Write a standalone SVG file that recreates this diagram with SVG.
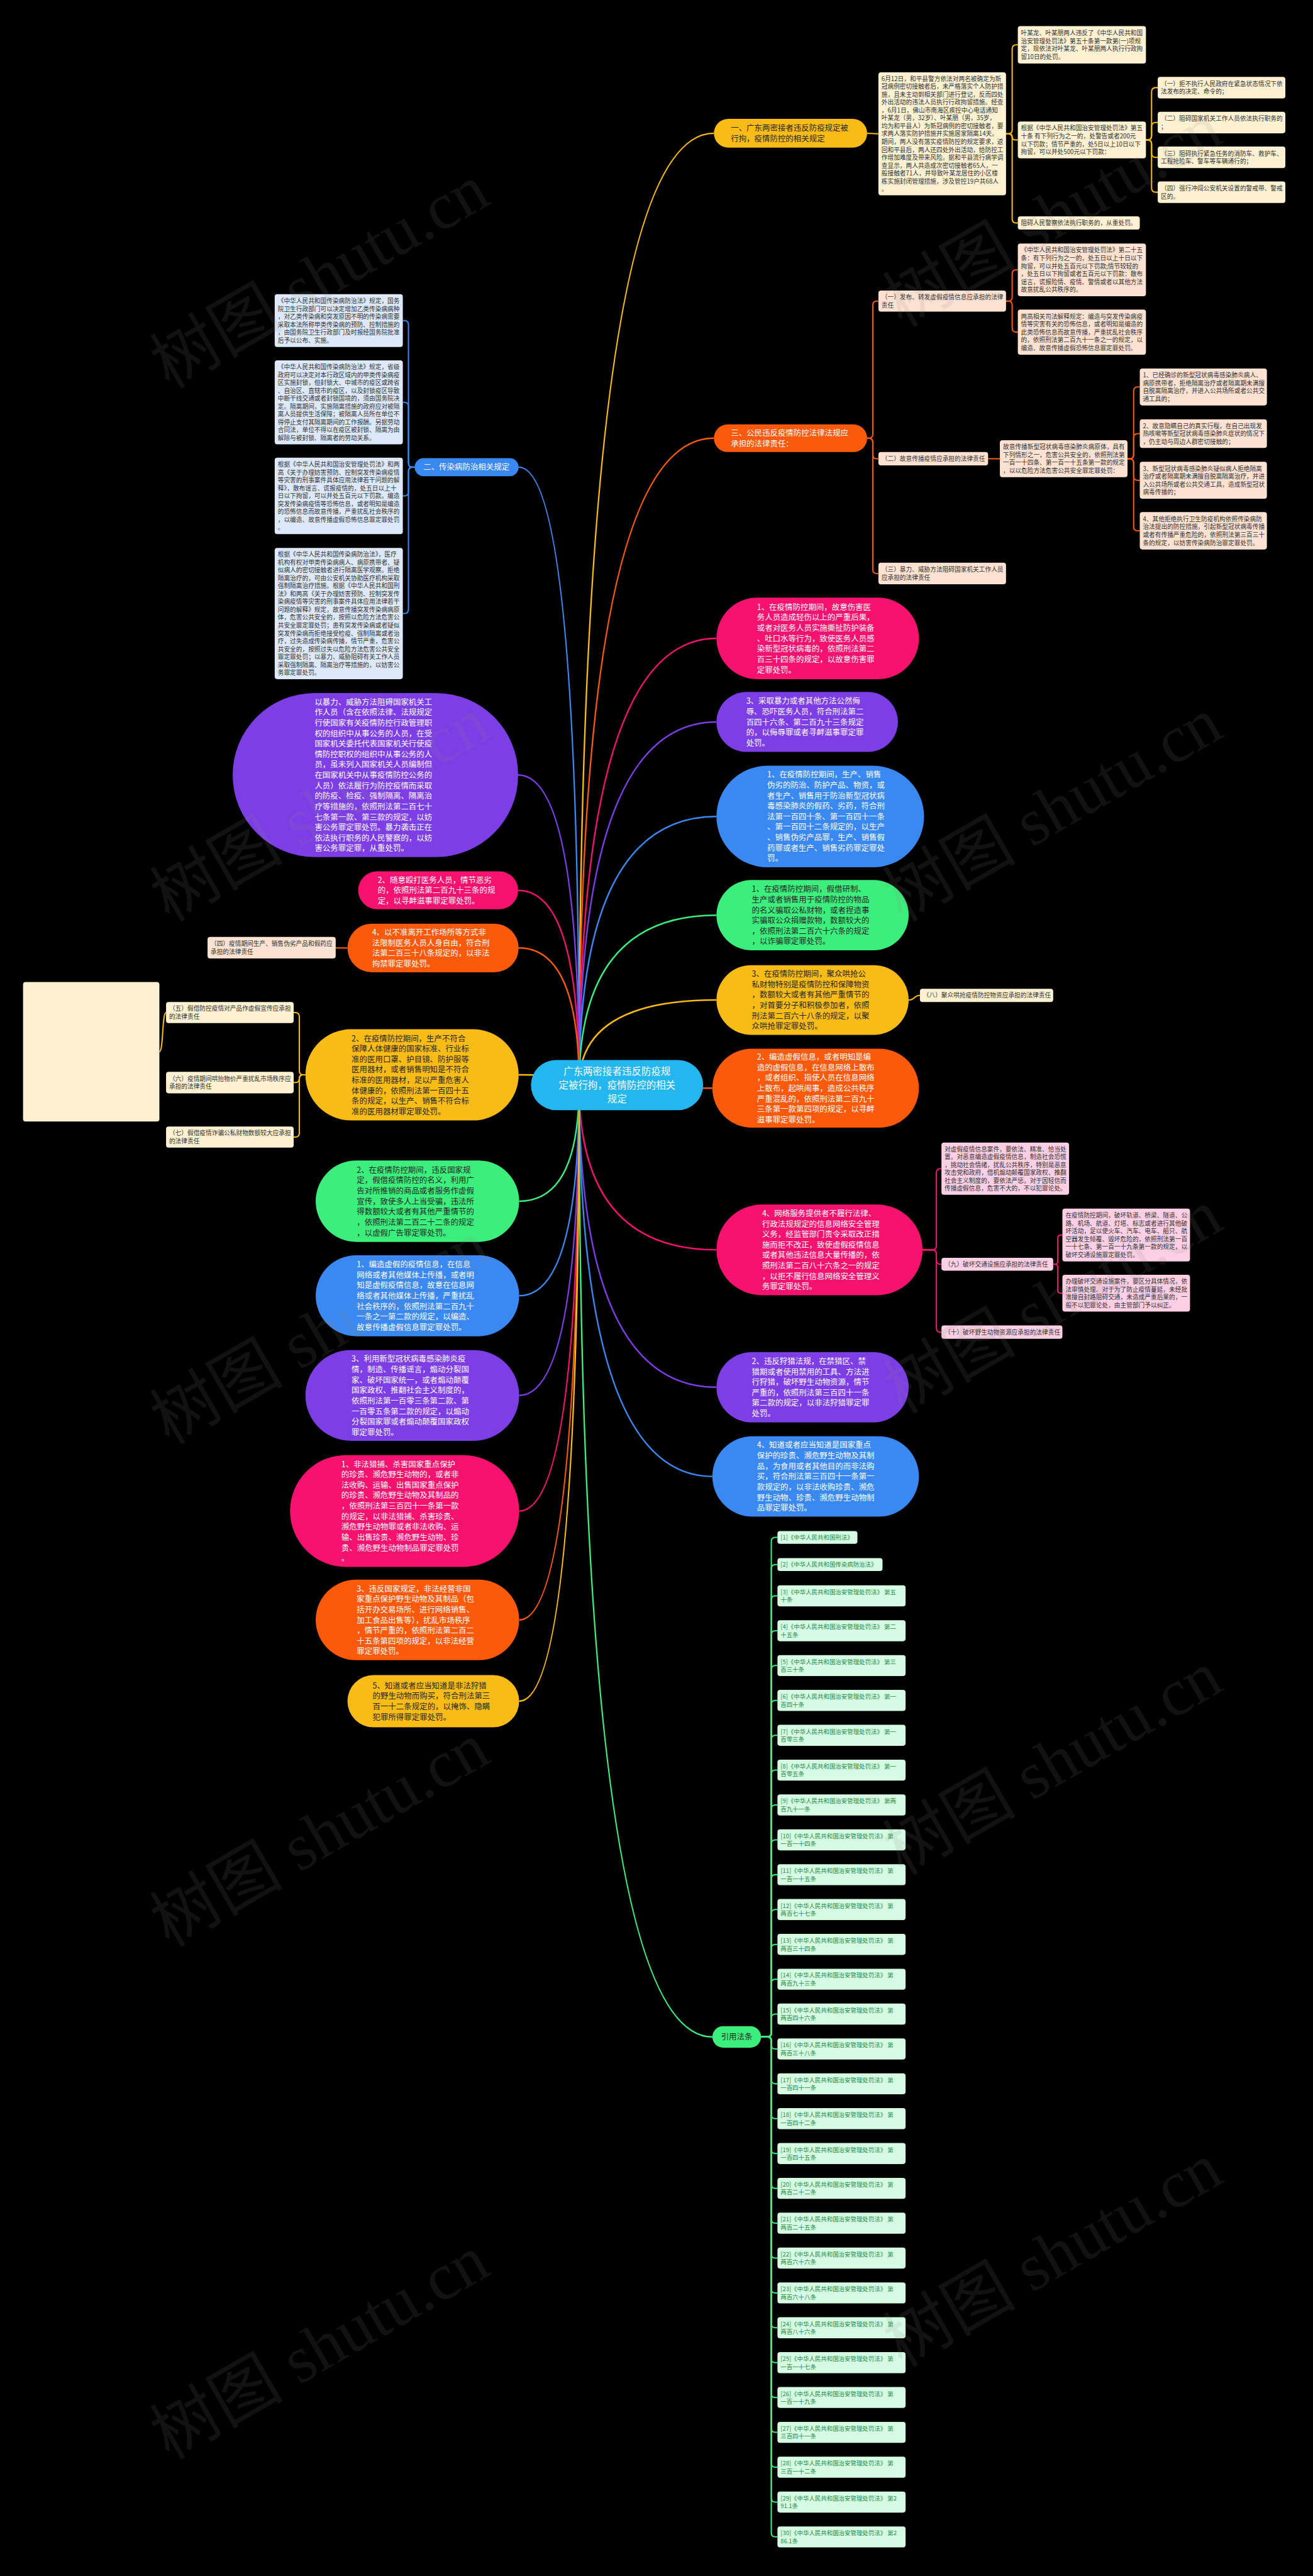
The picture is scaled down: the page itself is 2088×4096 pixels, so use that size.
<svg xmlns="http://www.w3.org/2000/svg" width="2088" height="4096" viewBox="0 0 2088 4096">
<style>
text{font-family:"Noto Sans CJK SC","Noto Sans",sans-serif}
.n{font-size:15.3px;fill:#fff}
.nd{font-size:15.3px;fill:#262626}
.lf{font-size:11.9px;fill:#333}
.ls{font-size:11.6px;fill:#1f8c49}
.rt{font-size:19px;fill:#fff;text-anchor:middle}
.wm{font-size:130px;fill:#888;opacity:0.13;font-family:"Liberation Serif","Noto Sans CJK SC",serif}
.c{fill:none;stroke-width:2.5}
.m{fill:none;stroke-width:3}
.cy{stroke:#f9bb16}.co{stroke:#fb5a0b}.cp{stroke:#f8126f}.cu{stroke:#7d3ee6}.cb{stroke:#3a89f2}.cg{stroke:#3cee7c}
.ly{fill:#fdf1d2}.lo{fill:#fde2d2}.lb{fill:#dde9fb}.lp{fill:#fccfe4}.lg{fill:#d6fbe3}
</style>
<rect width="2088" height="4096" fill="#000"/>
<g transform="scale(0.815)">
<g id="connectors">
<path class="m cy" d="M1130 2117 Q1130 260 1393 260"/>
<path class="m co" d="M1130 2117 Q1130 855 1393 855"/>
<path class="m cp" d="M1130 2117 Q1130 1245.5 1398 1245.5"/>
<path class="m cu" d="M1130 2117 Q1130 1408.5 1398 1408.5"/>
<path class="m cb" d="M1130 2117 Q1130 1593 1398 1593"/>
<path class="m cg" d="M1130 2117 Q1130 1785.5 1398 1785.5"/>
<path class="m cy" d="M1130 2117 Q1130 1951 1398 1951"/>
<path class="m co" d="M1130 2117 Q1130 2123 1390 2123"/>
<path class="m cp" d="M1130 2117 Q1130 2438.5 1398 2438.5"/>
<path class="m cu" d="M1130 2117 Q1130 2706.5 1398 2706.5"/>
<path class="m cb" d="M1130 2117 Q1130 2880.5 1390 2880.5"/>
<path class="m cg" d="M1130 2117 Q1130 3974 1390 3974"/>
<path class="m cb" d="M1130 2117 Q1130 911.5 1012 911.5"/>
<path class="m cu" d="M1130 2117 Q1130 1512 1011 1512"/>
<path class="m cp" d="M1130 2117 Q1130 1737 1011 1737"/>
<path class="m co" d="M1130 2117 Q1130 1849.5 1012 1849.5"/>
<path class="m cy" d="M1130 2117 Q1130 2097 1012 2097"/>
<path class="m cg" d="M1130 2117 Q1130 2343.5 1013 2343.5"/>
<path class="m cb" d="M1130 2117 Q1130 2528 1013 2528"/>
<path class="m cu" d="M1130 2117 Q1130 2722.5 1013 2722.5"/>
<path class="m cp" d="M1130 2117 Q1130 2948 1013 2948"/>
<path class="m co" d="M1130 2117 Q1130 3160.5 1013 3160.5"/>
<path class="m cy" d="M1130 2117 Q1130 3319 1013 3319"/>
<!-- yellow branch -->
<path class="c cy" d="M1692 260 L1714 261"/>
<path class="c cy" d="M1963 261 H1967 Q1975 261 1975 253 V95.5 Q1975 87.5 1983 87.5 H1986"/>
<path class="c cy" d="M1963 261 H1969 Q1975 261 1975 267 Q1975 273 1981 273 H1986"/>
<path class="c cy" d="M1963 261 H1967 Q1975 261 1975 269 V427 Q1975 435 1983 435 H1986"/>
<path class="c cy" d="M2236 273 H2239 Q2247 273 2247 265 V179 Q2247 171 2255 171 H2259"/>
<path class="c cy" d="M2236 273 H2239 Q2247 273 2247 265 V247 Q2247 239 2255 239 H2259"/>
<path class="c cy" d="M2236 273 H2239 Q2247 273 2247 281 V299 Q2247 307 2255 307 H2259"/>
<path class="c cy" d="M2236 273 H2239 Q2247 273 2247 281 V367 Q2247 375 2255 375 H2259"/>
<!-- orange branch -->
<path class="c co" d="M1692 855 H1695 Q1703 855 1703 847 V595.5 Q1703 587.5 1711 587.5 H1714"/>
<path class="c co" d="M1692 855 H1695 Q1703 855 1703 863 V887 Q1703 895 1711 895 H1714"/>
<path class="c co" d="M1692 855 H1695 Q1703 855 1703 863 V1111 Q1703 1119 1711 1119 H1714"/>
<path class="c co" d="M1963 587.5 H1967 Q1975 587.5 1975 579.5 V534.5 Q1975 526.5 1983 526.5 H1986"/>
<path class="c co" d="M1963 587.5 H1967 Q1975 587.5 1975 595.5 V640 Q1975 648 1983 648 H1986"/>
<path class="c co" d="M1928 895 H1951"/>
<path class="c co" d="M2200 895 H2204 Q2212 895 2212 887 V763 Q2212 755 2220 755 H2224"/>
<path class="c co" d="M2200 895 H2204 Q2212 895 2212 887 V854 Q2212 846 2220 846 H2224"/>
<path class="c co" d="M2200 895 H2204 Q2212 895 2212 903 V929 Q2212 937 2220 937 H2224"/>
<path class="c co" d="M2200 895 H2204 Q2212 895 2212 903 V1027.5 Q2212 1035.5 2220 1035.5 H2224"/>
<path class="c co" d="M678 1849.5 H655"/>
<!-- blue branch -->
<path class="c cb" d="M809 911.5 H805 Q797 911.5 797 903.5 V633.5 Q797 625.5 789 625.5 H786"/>
<path class="c cb" d="M809 911.5 H805 Q797 911.5 797 903.5 V793 Q797 785 789 785 H786"/>
<path class="c cb" d="M809 911.5 H805 Q797 911.5 797 919.5 V959.5 Q797 967.5 789 967.5 H786"/>
<path class="c cb" d="M809 911.5 H805 Q797 911.5 797 919.5 V1189 Q797 1197 789 1197 H786"/>
<!-- pink branch -->
<path class="c cp" d="M1800 2438.5 H1819 Q1827 2438.5 1827 2430.5 V2288 Q1827 2280 1835 2280 H1837"/>
<path class="c cp" d="M1800 2438.5 H1819 Q1827 2438.5 1827 2446.5 V2458.5 Q1827 2466.5 1835 2466.5 H1837"/>
<path class="c cp" d="M1800 2438.5 H1819 Q1827 2438.5 1827 2446.5 V2591 Q1827 2599 1835 2599 H1837"/>
<path class="c cp" d="M2055 2466.5 H2058 Q2064 2466.5 2064 2460.5 V2415.5 Q2064 2409.5 2070 2409.5 H2073"/>
<path class="c cp" d="M2055 2466.5 H2058 Q2064 2466.5 2064 2472.5 V2517 Q2064 2523 2070 2523 H2073"/>
<!-- yellow left -->
<path class="c cy" d="M596 2097 H592 Q584 2097 584 2089 V1983.5 Q584 1975.5 576 1975.5 H573"/>
<path class="c cy" d="M596 2097 H591 Q584 2097 584 2104 Q584 2112 577 2112 H573"/>
<path class="c cy" d="M596 2097 H592 Q584 2097 584 2105 V2210.5 Q584 2218.5 576 2218.5 H573"/>
<path class="c cy" d="M324 1975.5 C316 1975.5 319 2052 311 2052"/>
<path class="c cy" d="M1773 1951 C1785 1951 1783 1942 1795 1942"/>
<!-- list -->
<g class="c cg" stroke-width="2">
<path d="M1485 3974 H1497 Q1505 3974 1505 3966 V3007.5 Q1505 2999.5 1513 2999.5 H1517"/>
<path d="M1485 3974 H1497 Q1505 3974 1505 3966 V3060.5 Q1505 3052.5 1513 3052.5 H1517"/>
<path d="M1485 3974 H1497 Q1505 3974 1505 3966 V3121.5 Q1505 3113.5 1513 3113.5 H1517"/>
<path d="M1485 3974 H1497 Q1505 3974 1505 3966 V3189.5 Q1505 3181.5 1513 3181.5 H1517"/>
<path d="M1485 3974 H1497 Q1505 3974 1505 3966 V3257.5 Q1505 3249.5 1513 3249.5 H1517"/>
<path d="M1485 3974 H1497 Q1505 3974 1505 3966 V3325.5 Q1505 3317.5 1513 3317.5 H1517"/>
<path d="M1485 3974 H1497 Q1505 3974 1505 3966 V3393.5 Q1505 3385.5 1513 3385.5 H1517"/>
<path d="M1485 3974 H1497 Q1505 3974 1505 3966 V3461.5 Q1505 3453.5 1513 3453.5 H1517"/>
<path d="M1485 3974 H1497 Q1505 3974 1505 3966 V3529.5 Q1505 3521.5 1513 3521.5 H1517"/>
<path d="M1485 3974 H1497 Q1505 3974 1505 3966 V3597.5 Q1505 3589.5 1513 3589.5 H1517"/>
<path d="M1485 3974 H1497 Q1505 3974 1505 3966 V3665.5 Q1505 3657.5 1513 3657.5 H1517"/>
<path d="M1485 3974 H1497 Q1505 3974 1505 3966 V3733.5 Q1505 3725.5 1513 3725.5 H1517"/>
<path d="M1485 3974 H1497 Q1505 3974 1505 3966 V3801.5 Q1505 3793.5 1513 3793.5 H1517"/>
<path d="M1485 3974 H1497 Q1505 3974 1505 3966 V3869.5 Q1505 3861.5 1513 3861.5 H1517"/>
<path d="M1485 3974 H1497 Q1505 3974 1505 3966 V3937.5 Q1505 3929.5 1513 3929.5 H1517"/>
<path d="M1485 3974 H1497 Q1505 3974 1505 3982 V3989.5 Q1505 3997.5 1513 3997.5 H1517"/>
<path d="M1485 3974 H1497 Q1505 3974 1505 3982 V4057.5 Q1505 4065.5 1513 4065.5 H1517"/>
<path d="M1485 3974 H1497 Q1505 3974 1505 3982 V4125.5 Q1505 4133.5 1513 4133.5 H1517"/>
<path d="M1485 3974 H1497 Q1505 3974 1505 3982 V4193.5 Q1505 4201.5 1513 4201.5 H1517"/>
<path d="M1485 3974 H1497 Q1505 3974 1505 3982 V4261.5 Q1505 4269.5 1513 4269.5 H1517"/>
<path d="M1485 3974 H1497 Q1505 3974 1505 3982 V4329.5 Q1505 4337.5 1513 4337.5 H1517"/>
<path d="M1485 3974 H1497 Q1505 3974 1505 3982 V4397.5 Q1505 4405.5 1513 4405.5 H1517"/>
<path d="M1485 3974 H1497 Q1505 3974 1505 3982 V4465.5 Q1505 4473.5 1513 4473.5 H1517"/>
<path d="M1485 3974 H1497 Q1505 3974 1505 3982 V4533.5 Q1505 4541.5 1513 4541.5 H1517"/>
<path d="M1485 3974 H1497 Q1505 3974 1505 3982 V4601.5 Q1505 4609.5 1513 4609.5 H1517"/>
<path d="M1485 3974 H1497 Q1505 3974 1505 3982 V4669.5 Q1505 4677.5 1513 4677.5 H1517"/>
<path d="M1485 3974 H1497 Q1505 3974 1505 3982 V4737.5 Q1505 4745.5 1513 4745.5 H1517"/>
<path d="M1485 3974 H1497 Q1505 3974 1505 3982 V4805.5 Q1505 4813.5 1513 4813.5 H1517"/>
<path d="M1485 3974 H1497 Q1505 3974 1505 3982 V4873.5 Q1505 4881.5 1513 4881.5 H1517"/>
<path d="M1485 3974 H1497 Q1505 3974 1505 3982 V4941.5 Q1505 4949.5 1513 4949.5 H1517"/>
</g>
</g>

<g id="root">
<rect x="1036" y="2068" width="336" height="98" rx="49" fill="#24b6ee"/>
<text class="rt" x="1204" y="2097">广东两密接者违反防疫规<tspan x="1204" dy="27">定被行拘，疫情防控的相关</tspan><tspan x="1204" dy="27">规定</tspan></text>
</g>

<g id="n1">
<rect x="1393" y="232" width="299" height="56" rx="28" fill="#f9bb16"/>
<text class="nd" x="1426" y="255.6">一、广东两密接者违反防疫规定被<tspan x="1426" dy="20.4">行拘，疫情防控的相关规定</tspan></text>
</g>
<g id="n1-1">
<rect class="ly" x="1714" y="141" width="249" height="240" rx="5"/>
<text class="lf" x="1720" y="157.8">6月12日，和平县警方依法对两名被确定为新<tspan x="1720" dy="15.4">冠病例密切接触者后，未严格落实个人防护措</tspan><tspan x="1720" dy="15.4">施，且未主动到相关部门进行登记，反而四处</tspan><tspan x="1720" dy="15.4">外出活动的违法人员执行行政拘留措施。经查</tspan><tspan x="1720" dy="15.4">，6月1日，佛山市南海区疾控中心电话通知</tspan><tspan x="1720" dy="15.4">叶某龙（男，32岁）、叶某朋（男，35岁，</tspan><tspan x="1720" dy="15.4">均为和平县人）为新冠病例的密切接触者，要</tspan><tspan x="1720" dy="15.4">求两人落实防护措施并实施居家隔离14天。</tspan><tspan x="1720" dy="15.4">期间，两人没有落实疫情防控的规定要求，返</tspan><tspan x="1720" dy="15.4">回和平县后，两人还四处外出活动，给防控工</tspan><tspan x="1720" dy="15.4">作增加难度及带来风险。据和平县流行病学调</tspan><tspan x="1720" dy="15.4">查显示，两人共造成次密切接触者65人，一</tspan><tspan x="1720" dy="15.4">般接触者71人，并导致叶某龙居住的小区楼</tspan><tspan x="1720" dy="15.4">栋实施封闭管理措施，涉及管控19户共68人</tspan><tspan x="1720" dy="15.4">。</tspan></text>
</g>
<g id="n1-2">
<rect class="ly" x="1986" y="51" width="250" height="73" rx="5"/>
<text class="lf" x="1992" y="69">叶某龙、叶某朋两人违反了《中华人民共和国<tspan x="1992" dy="15.4">治安管理处罚法》第五十条第一款第(一)项规</tspan><tspan x="1992" dy="15.4">定，现依法对叶某龙、叶某朋两人执行行政拘</tspan><tspan x="1992" dy="15.4">留10日的处罚。</tspan></text>
</g>
<g id="n1-3">
<rect class="ly" x="1986" y="237" width="250" height="72" rx="5"/>
<text class="lf" x="1992" y="254.5">根据《中华人民共和国治安管理处罚法》第五<tspan x="1992" dy="15.4">十条 有下列行为之一的，处警告或者200元</tspan><tspan x="1992" dy="15.4">以下罚款；情节严重的，处5日以上10日以下</tspan><tspan x="1992" dy="15.4">拘留，可以并处500元以下罚款：</tspan></text>
</g>
<g id="n1-3-1"><rect class="ly" x="2259" y="150" width="249" height="42" rx="5"/><text class="lf" x="2265" y="167.9">（一）拒不执行人民政府在紧急状态情况下依<tspan x="2265" dy="15.4">法发布的决定、命令的；</tspan></text></g>
<g id="n1-3-2"><rect class="ly" x="2259" y="218" width="249" height="42" rx="5"/><text class="lf" x="2265" y="235.9">（二）阻碍国家机关工作人员依法执行职务的<tspan x="2265" dy="15.4">；</tspan></text></g>
<g id="n1-3-3"><rect class="ly" x="2259" y="286" width="249" height="42" rx="5"/><text class="lf" x="2265" y="303.9">（三）阻碍执行紧急任务的消防车、救护车、<tspan x="2265" dy="15.4">工程抢险车、警车等车辆通行的；</tspan></text></g>
<g id="n1-3-4"><rect class="ly" x="2259" y="354" width="249" height="42" rx="5"/><text class="lf" x="2265" y="371.9">（四）强行冲闯公安机关设置的警戒带、警戒<tspan x="2265" dy="15.4">区的。</tspan></text></g>
<g id="n1-4"><rect class="ly" x="1986" y="422" width="238" height="26" rx="5"/><text class="lf" x="1992" y="439.6">阻碍人民警察依法执行职务的，从重处罚。</text></g>

<g id="n3">
<rect x="1393" y="828" width="299" height="54" rx="27" fill="#fb5a0b"/>
<text class="n" x="1426" y="850.6">三、公民违反疫情防控法律法规应<tspan x="1426" dy="20.4">承担的法律责任：</tspan></text>
</g>
<g id="n3-1"><rect class="lo" x="1714" y="567" width="249" height="41" rx="5"/><text class="lf" x="1720" y="584.4">（一）发布、转发虚假疫情信息应承担的法律<tspan x="1720" dy="15.4">责任</tspan></text></g>
<g id="n3-1-1"><rect class="lo" x="1986" y="475" width="250" height="103" rx="5"/><text class="lf" x="1992" y="492.6">《中华人民共和国治安管理处罚法》第二十五<tspan x="1992" dy="15.4">条：有下列行为之一的，处五日以上十日以下</tspan><tspan x="1992" dy="15.4">拘留，可以并处五百元以下罚款;情节较轻的</tspan><tspan x="1992" dy="15.4">，处五日以下拘留或者五百元以下罚款：散布</tspan><tspan x="1992" dy="15.4">谣言，谎报险情、疫情、警情或者以其他方法</tspan><tspan x="1992" dy="15.4">故意扰乱公共秩序的。</tspan></text></g>
<g id="n3-1-2"><rect class="lo" x="1986" y="604" width="250" height="88" rx="5"/><text class="lf" x="1992" y="621.8">两高相关司法解释规定：编造与突发传染病疫<tspan x="1992" dy="15.4">情等灾害有关的恐怖信息，或者明知是编造的</tspan><tspan x="1992" dy="15.4">此类恐怖信息而故意传播，严重扰乱社会秩序</tspan><tspan x="1992" dy="15.4">的，依照刑法第二百九十一条之一的规定，以</tspan><tspan x="1992" dy="15.4">编造、故意传播虚假恐怖信息罪定罪处罚。</tspan></text></g>
<g id="n3-2"><rect class="lo" x="1714" y="882" width="214" height="26" rx="5"/><text class="lf" x="1720" y="899.6">（二）故意传播疫情应承担的法律责任</text></g>
<g id="n3-2-1"><rect class="lo" x="1951" y="859" width="249" height="72" rx="5"/><text class="lf" x="1957" y="876.5">故意传播新型冠状病毒感染肺炎病原体，具有<tspan x="1957" dy="15.4">下列情形之一，危害公共安全的，依照刑法第</tspan><tspan x="1957" dy="15.4">一百一十四条、第一百一十五条第一款的规定</tspan><tspan x="1957" dy="15.4">，以以危险方法危害公共安全罪定罪处罚：</tspan></text></g>
<g id="n3-2-1-1"><rect class="lo" x="2224" y="719" width="248" height="72" rx="5"/><text class="lf" x="2230" y="736.5">1、已经确诊的新型冠状病毒感染肺炎病人、<tspan x="2230" dy="15.4">病原携带者，拒绝隔离治疗或者隔离期未满擅</tspan><tspan x="2230" dy="15.4">自脱离隔离治疗，并进入公共场所或者公共交</tspan><tspan x="2230" dy="15.4">通工具的；</tspan></text></g>
<g id="n3-2-1-2"><rect class="lo" x="2224" y="818" width="248" height="56" rx="5"/><text class="lf" x="2230" y="835.2">2、故意隐瞒自己的真实行程，在自己出现发<tspan x="2230" dy="15.4">热咳嗽等新型冠状病毒感染肺炎症状的情况下</tspan><tspan x="2230" dy="15.4">，仍主动与周边人群密切接触的；</tspan></text></g>
<g id="n3-2-1-3"><rect class="lo" x="2224" y="901" width="248" height="72" rx="5"/><text class="lf" x="2230" y="918.5">3、新型冠状病毒感染肺炎疑似病人拒绝隔离<tspan x="2230" dy="15.4">治疗或者隔离期未满擅自脱离隔离治疗，并进</tspan><tspan x="2230" dy="15.4">入公共场所或者公共交通工具，造成新型冠状</tspan><tspan x="2230" dy="15.4">病毒传播的；</tspan></text></g>
<g id="n3-2-1-4"><rect class="lo" x="2224" y="999" width="248" height="73" rx="5"/><text class="lf" x="2230" y="1017">4、其他拒绝执行卫生防疫机构依照传染病防<tspan x="2230" dy="15.4">治法提出的防控措施，引起新型冠状病毒传播</tspan><tspan x="2230" dy="15.4">或者有传播严重危险的，依照刑法第三百三十</tspan><tspan x="2230" dy="15.4">条的规定，以妨害传染病防治罪定罪处罚。</tspan></text></g>
<g id="n3-3"><rect class="lo" x="1714" y="1098" width="249" height="42" rx="5"/><text class="lf" x="1720" y="1115.9">（三）暴力、威胁方法阻碍国家机关工作人员<tspan x="1720" dy="15.4">应承担的法律责任</tspan></text></g>

<g id="n2">
<rect x="809" y="894" width="203" height="35" rx="17.5" fill="#3a89f2"/>
<text class="n" x="826" y="917">二、传染病防治相关规定</text>
</g>
<g id="n2-1"><rect class="lb" x="536" y="574" width="250" height="103" rx="5"/><text class="lf" x="542" y="591.5">《中华人民共和国传染病防治法》规定，国务<tspan x="542" dy="15.4">院卫生行政部门可以决定增加乙类传染病病种</tspan><tspan x="542" dy="15.4">，对乙类传染病和突发原因不明的传染病需要</tspan><tspan x="542" dy="15.4">采取本法所称甲类传染病的预防、控制措施的</tspan><tspan x="542" dy="15.4">，由国务院卫生行政部门及时报经国务院批准</tspan><tspan x="542" dy="15.4">后予以公布、实施。</tspan></text></g>
<g id="n2-2"><rect class="lb" x="536" y="703" width="250" height="164" rx="5"/><text class="lf" x="542" y="720.2">《中华人民共和国传染病防治法》规定，省级<tspan x="542" dy="15.4">政府可以决定对本行政区域内的甲类传染病疫</tspan><tspan x="542" dy="15.4">区实施封锁，但封锁大、中城市的疫区或跨省</tspan><tspan x="542" dy="15.4">、自治区、直辖市的疫区，以及封锁疫区导致</tspan><tspan x="542" dy="15.4">中断干线交通或者封锁国境的，须由国务院决</tspan><tspan x="542" dy="15.4">定。隔离期间，实施隔离措施的政府应对被隔</tspan><tspan x="542" dy="15.4">离人员提供生活保障；被隔离人员所在单位不</tspan><tspan x="542" dy="15.4">得停止支付其隔离期间的工作报酬。另据劳动</tspan><tspan x="542" dy="15.4">合同法，单位不得以在疫区被封锁、隔离为由</tspan><tspan x="542" dy="15.4">解除与被封锁、隔离者的劳动关系。</tspan></text></g>
<g id="n2-3"><rect class="lb" x="536" y="893" width="250" height="149" rx="5"/><text class="lf" x="542" y="910.4">根据《中华人民共和国治安管理处罚法》和两<tspan x="542" dy="15.4">高《关于办理妨害预防、控制突发传染病疫情</tspan><tspan x="542" dy="15.4">等灾害的刑事案件具体应用法律若干问题的解</tspan><tspan x="542" dy="15.4">释》，散布谣言、谎报疫情的，处五日以上十</tspan><tspan x="542" dy="15.4">日以下拘留，可以并处五百元以下罚款。编造</tspan><tspan x="542" dy="15.4">突发传染病疫情等恐怖信息，或者明知是编造</tspan><tspan x="542" dy="15.4">的恐怖信息而故意传播，严重扰乱社会秩序的</tspan><tspan x="542" dy="15.4">，以编造、故意传播虚假恐怖信息罪定罪处罚</tspan><tspan x="542" dy="15.4">。</tspan></text></g>
<g id="n2-4"><rect class="lb" x="536" y="1069" width="250" height="256" rx="5"/><text class="lf" x="542" y="1086">根据《中华人民共和国传染病防治法》，医疗<tspan x="542" dy="15.4">机构有权对甲类传染病病人、病原携带者、疑</tspan><tspan x="542" dy="15.4">似病人的密切接触者进行隔离医学观察。拒绝</tspan><tspan x="542" dy="15.4">隔离治疗的，可由公安机关协助医疗机构采取</tspan><tspan x="542" dy="15.4">强制隔离治疗措施。根据《中华人民共和国刑</tspan><tspan x="542" dy="15.4">法》和两高《关于办理妨害预防、控制突发传</tspan><tspan x="542" dy="15.4">染病疫情等灾害的刑事案件具体应用法律若干</tspan><tspan x="542" dy="15.4">问题的解释》规定，故意传播突发传染病病原</tspan><tspan x="542" dy="15.4">体，危害公共安全的，按照以危险方法危害公</tspan><tspan x="542" dy="15.4">共安全罪定罪处罚；患有突发传染病或者疑似</tspan><tspan x="542" dy="15.4">突发传染病而拒绝接受检疫、强制隔离或者治</tspan><tspan x="542" dy="15.4">疗，过失造成传染病传播，情节严重，危害公</tspan><tspan x="542" dy="15.4">共安全的，按照过失以危险方法危害公共安全</tspan><tspan x="542" dy="15.4">罪定罪处罚；以暴力、威胁阻碍有关工作人员</tspan><tspan x="542" dy="15.4">采取强制隔离、隔离治疗等措施的，以妨害公</tspan><tspan x="542" dy="15.4">务罪定罪处罚。</tspan></text></g>

<g id="r2"><rect x="1398" y="1166" width="395" height="159" rx="79.5" fill="#f8126f"/><text class="n" x="1477" y="1190">1、在疫情防控期间，故意伤害医<tspan x="1477" dy="20.4">务人员造成轻伤以上的严重后果，</tspan><tspan x="1477" dy="20.4">或者对医务人员实施撕扯防护装备</tspan><tspan x="1477" dy="20.4">、吐口水等行为，致使医务人员感</tspan><tspan x="1477" dy="20.4">染新型冠状病毒的，依照刑法第二</tspan><tspan x="1477" dy="20.4">百三十四条的规定，以故意伤害罪</tspan><tspan x="1477" dy="20.4">定罪处罚。</tspan></text></g>
<g id="r3"><rect x="1398" y="1350" width="354" height="117" rx="58.5" fill="#7d3ee6"/><text class="n" x="1456" y="1373.5">3、采取暴力或者其他方法公然侮<tspan x="1456" dy="20.4">辱、恐吓医务人员，符合刑法第二</tspan><tspan x="1456" dy="20.4">百四十六条、第二百九十三条规定</tspan><tspan x="1456" dy="20.4">的，以侮辱罪或者寻衅滋事罪定罪</tspan><tspan x="1456" dy="20.4">处罚。</tspan></text></g>
<g id="r4"><rect x="1398" y="1494" width="405" height="198" rx="99" fill="#3a89f2"/><text class="n" x="1497" y="1517">1、在疫情防控期间，生产、销售<tspan x="1497" dy="20.4">伪劣的防治、防护产品、物资，或</tspan><tspan x="1497" dy="20.4">者生产、销售用于防治新型冠状病</tspan><tspan x="1497" dy="20.4">毒感染肺炎的假药、劣药，符合刑</tspan><tspan x="1497" dy="20.4">法第一百四十条、第一百四十一条</tspan><tspan x="1497" dy="20.4">、第一百四十二条规定的，以生产</tspan><tspan x="1497" dy="20.4">、销售伪劣产品罪，生产、销售假</tspan><tspan x="1497" dy="20.4">药罪或者生产、销售劣药罪定罪处</tspan><tspan x="1497" dy="20.4">罚。</tspan></text></g>
<g id="r5"><rect x="1398" y="1717" width="375" height="137" rx="68.5" fill="#3cee7c"/><text class="nd" x="1467" y="1740.3">1、在疫情防控期间，假借研制、<tspan x="1467" dy="20.4">生产或者销售用于疫情防控的物品</tspan><tspan x="1467" dy="20.4">的名义骗取公私财物，或者捏造事</tspan><tspan x="1467" dy="20.4">实骗取公众捐赠款物，数额较大的</tspan><tspan x="1467" dy="20.4">，依照刑法第二百六十六条的规定</tspan><tspan x="1467" dy="20.4">，以诈骗罪定罪处罚。</tspan></text></g>
<g id="r6"><rect x="1398" y="1883" width="375" height="136" rx="68" fill="#f9bb16"/><text class="nd" x="1467" y="1905.8">3、在疫情防控期间，聚众哄抢公<tspan x="1467" dy="20.4">私财物特别是疫情防控和保障物资</tspan><tspan x="1467" dy="20.4">，数额较大或者有其他严重情节的</tspan><tspan x="1467" dy="20.4">，对首要分子和积极参加者，依照</tspan><tspan x="1467" dy="20.4">刑法第二百六十八条的规定，以聚</tspan><tspan x="1467" dy="20.4">众哄抢罪定罪处罚。</tspan></text></g>
<g id="r6-1"><rect class="ly" x="1795" y="1929" width="260" height="26" rx="5"/><text class="lf" x="1801" y="1946.5">（八）聚众哄抢疫情防控物资应承担的法律责任</text></g>
<g id="r7"><rect x="1390" y="2046" width="403" height="154" rx="77" fill="#fb5a0b"/><text class="n" x="1477" y="2067.6">2、编造虚假信息，或者明知是编<tspan x="1477" dy="20.4">造的虚假信息，在信息网络上散布</tspan><tspan x="1477" dy="20.4">，或者组织、指使人员在信息网络</tspan><tspan x="1477" dy="20.4">上散布，起哄闹事，造成公共秩序</tspan><tspan x="1477" dy="20.4">严重混乱的，依照刑法第二百九十</tspan><tspan x="1477" dy="20.4">三条第一款第四项的规定，以寻衅</tspan><tspan x="1477" dy="20.4">滋事罪定罪处罚。</tspan></text></g>
<g id="r8"><rect x="1398" y="2350" width="402" height="177" rx="88.5" fill="#f8126f"/><text class="n" x="1487" y="2372.9">4、网络服务提供者不履行法律、<tspan x="1487" dy="20.4">行政法规规定的信息网络安全管理</tspan><tspan x="1487" dy="20.4">义务，经监管部门责令采取改正措</tspan><tspan x="1487" dy="20.4">施而拒不改正，致使虚假疫情信息</tspan><tspan x="1487" dy="20.4">或者其他违法信息大量传播的，依</tspan><tspan x="1487" dy="20.4">照刑法第二百八十六条之一的规定</tspan><tspan x="1487" dy="20.4">，以拒不履行信息网络安全管理义</tspan><tspan x="1487" dy="20.4">务罪定罪处罚。</tspan></text></g>
<g id="r8-1"><rect class="lp" x="1837" y="2229" width="249" height="102" rx="5"/><text class="lf" x="1843" y="2246.1">对虚假疫情信息案件，要依法、精准、恰当处<tspan x="1843" dy="15.4">置。对恶意编造虚假疫情信息，制造社会恐慌</tspan><tspan x="1843" dy="15.4">，挑动社会情绪，扰乱公共秩序，特别是恶意</tspan><tspan x="1843" dy="15.4">攻击党和政府，借机煽动颠覆国家政权、推翻</tspan><tspan x="1843" dy="15.4">社会主义制度的，要依法严惩。对于因轻信而</tspan><tspan x="1843" dy="15.4">传播虚假信息，危害不大的，不以犯罪论处。</tspan></text></g>
<g id="r8-2"><rect class="lp" x="1837" y="2454" width="218" height="25" rx="5"/><text class="lf" x="1843" y="2471">（九）破坏交通设施应承担的法律责任</text></g>
<g id="r8-2-1"><rect class="lp" x="2073" y="2358" width="249" height="103" rx="5"/><text class="lf" x="2079" y="2375.6">在疫情防控期间，破坏轨道、桥梁、隧道、公<tspan x="2079" dy="15.4">路、机场、航道、灯塔、标志或者进行其他破</tspan><tspan x="2079" dy="15.4">坏活动，足以使火车、汽车、电车、船只、航</tspan><tspan x="2079" dy="15.4">空器发生倾覆、毁坏危险的，依照刑法第一百</tspan><tspan x="2079" dy="15.4">一十七条、第一百一十九条第一款的规定，以</tspan><tspan x="2079" dy="15.4">破坏交通设施罪定罪处罚。</tspan></text></g>
<g id="r8-2-2"><rect class="lp" x="2073" y="2487" width="249" height="72" rx="5"/><text class="lf" x="2079" y="2504.5">办理破坏交通设施案件，要区分具体情况，依<tspan x="2079" dy="15.4">法审慎处理。对于为了防止疫情蔓延，未经批</tspan><tspan x="2079" dy="15.4">准擅自封路阻碍交通，未造成严重后果的，一</tspan><tspan x="2079" dy="15.4">般不以犯罪论处，由主管部门予以纠正。</tspan></text></g>
<g id="r8-3"><rect class="lp" x="1837" y="2586" width="236" height="26" rx="5"/><text class="lf" x="1843" y="2603.5">（十）破坏野生动物资源应承担的法律责任</text></g>
<g id="r9"><rect x="1398" y="2638" width="375" height="137" rx="68.5" fill="#7d3ee6"/><text class="n" x="1467" y="2661.3">2、违反狩猎法规，在禁猎区、禁<tspan x="1467" dy="20.4">猎期或者使用禁用的工具、方法进</tspan><tspan x="1467" dy="20.4">行狩猎，破坏野生动物资源，情节</tspan><tspan x="1467" dy="20.4">严重的，依照刑法第三百四十一条</tspan><tspan x="1467" dy="20.4">第二款的规定，以非法狩猎罪定罪</tspan><tspan x="1467" dy="20.4">处罚。</tspan></text></g>
<g id="r10"><rect x="1390" y="2802" width="403" height="157" rx="78.5" fill="#3a89f2"/><text class="n" x="1477" y="2825.1">4、知道或者应当知道是国家重点<tspan x="1477" dy="20.4">保护的珍贵、濒危野生动物及其制</tspan><tspan x="1477" dy="20.4">品，为食用或者其他目的而非法购</tspan><tspan x="1477" dy="20.4">买，符合刑法第三百四十一条第一</tspan><tspan x="1477" dy="20.4">款规定的，以非法收购珍贵、濒危</tspan><tspan x="1477" dy="20.4">野生动物、珍贵、濒危野生动物制</tspan><tspan x="1477" dy="20.4">品罪定罪处罚。</tspan></text></g>

<g id="l1"><rect x="454" y="1352" width="557" height="320" rx="160" fill="#7d3ee6"/><text class="n" x="614" y="1375">以暴力、威胁方法阻碍国家机关工<tspan x="614" dy="20.4">作人员（含在依照法律、法规规定</tspan><tspan x="614" dy="20.4">行使国家有关疫情防控行政管理职</tspan><tspan x="614" dy="20.4">权的组织中从事公务的人员，在受</tspan><tspan x="614" dy="20.4">国家机关委托代表国家机关行使疫</tspan><tspan x="614" dy="20.4">情防控职权的组织中从事公务的人</tspan><tspan x="614" dy="20.4">员，虽未列入国家机关人员编制但</tspan><tspan x="614" dy="20.4">在国家机关中从事疫情防控公务的</tspan><tspan x="614" dy="20.4">人员）依法履行为防控疫情而采取</tspan><tspan x="614" dy="20.4">的防疫、检疫、强制隔离、隔离治</tspan><tspan x="614" dy="20.4">疗等措施的，依照刑法第二百七十</tspan><tspan x="614" dy="20.4">七条第一款、第三款的规定，以妨</tspan><tspan x="614" dy="20.4">害公务罪定罪处罚。暴力袭击正在</tspan><tspan x="614" dy="20.4">依法执行职务的人民警察的，以妨</tspan><tspan x="614" dy="20.4">害公务罪定罪，从重处罚。</tspan></text></g>
<g id="l2"><rect x="699" y="1700" width="312" height="74" rx="37" fill="#f8126f"/><text class="n" x="737" y="1722.4">2、随意殴打医务人员，情节恶劣<tspan x="737" dy="20.4">的，依照刑法第二百九十三条的规</tspan><tspan x="737" dy="20.4">定，以寻衅滋事罪定罪处罚。</tspan></text></g>
<g id="l3"><rect x="678" y="1802" width="334" height="95" rx="47.5" fill="#fb5a0b"/><text class="n" x="726" y="1824.7">4、以不准离开工作场所等方式非<tspan x="726" dy="20.4">法限制医务人员人身自由，符合刑</tspan><tspan x="726" dy="20.4">法第二百三十八条规定的，以非法</tspan><tspan x="726" dy="20.4">拘禁罪定罪处罚。</tspan></text></g>
<g id="l3-1"><rect class="lo" x="405" y="1828" width="250" height="42" rx="5"/><text class="lf" x="411" y="1845.9">（四）疫情期间生产、销售伪劣产品和假药应<tspan x="411" dy="15.4">承担的法律责任</tspan></text></g>
<g id="l4"><rect x="596" y="2008" width="416" height="178" rx="89" fill="#f9bb16"/><text class="nd" x="686" y="2031.4">2、在疫情防控期间，生产不符合<tspan x="686" dy="20.4">保障人体健康的国家标准、行业标</tspan><tspan x="686" dy="20.4">准的医用口罩、护目镜、防护服等</tspan><tspan x="686" dy="20.4">医用器材，或者销售明知是不符合</tspan><tspan x="686" dy="20.4">标准的医用器材，足以严重危害人</tspan><tspan x="686" dy="20.4">体健康的，依照刑法第一百四十五</tspan><tspan x="686" dy="20.4">条的规定，以生产、销售不符合标</tspan><tspan x="686" dy="20.4">准的医用器材罪定罪处罚。</tspan></text></g>
<g id="l4-1"><rect class="ly" x="324" y="1955" width="249" height="41" rx="5"/><text class="lf" x="330" y="1972.3">（五）假借防控疫情对产品作虚假宣传应承担<tspan x="330" dy="15.4">的法律责任</tspan></text></g>
<g id="l4-2"><rect class="ly" x="324" y="2091" width="249" height="42" rx="5"/><text class="lf" x="330" y="2108.8">（六）疫情期间哄抬物价严重扰乱市场秩序应<tspan x="330" dy="15.4">承担的法律责任</tspan></text></g>
<g id="l4-3"><rect class="ly" x="324" y="2198" width="249" height="41" rx="5"/><text class="lf" x="330" y="2215.3">（七）假借疫情诈骗公私财物数额较大应承担<tspan x="330" dy="15.4">的法律责任</tspan></text></g>
<g id="l4-note"><rect class="ly" x="45" y="1916" width="266" height="272" rx="5"/></g>
<g id="l5"><rect x="616" y="2264" width="397" height="159" rx="79.5" fill="#3cee7c"/><text class="nd" x="696" y="2288.1">2、在疫情防控期间，违反国家规<tspan x="696" dy="20.4">定，假借疫情防控的名义，利用广</tspan><tspan x="696" dy="20.4">告对所推销的商品或者服务作虚假</tspan><tspan x="696" dy="20.4">宣传，致使多人上当受骗，违法所</tspan><tspan x="696" dy="20.4">得数额较大或者有其他严重情节的</tspan><tspan x="696" dy="20.4">，依照刑法第二百二十二条的规定</tspan><tspan x="696" dy="20.4">，以虚假广告罪定罪处罚。</tspan></text></g>
<g id="l6"><rect x="616" y="2449" width="397" height="158" rx="79" fill="#3a89f2"/><text class="n" x="696" y="2472.6">1、编造虚假的疫情信息，在信息<tspan x="696" dy="20.4">网络或者其他媒体上传播，或者明</tspan><tspan x="696" dy="20.4">知是虚假疫情信息，故意在信息网</tspan><tspan x="696" dy="20.4">络或者其他媒体上传播，严重扰乱</tspan><tspan x="696" dy="20.4">社会秩序的，依照刑法第二百九十</tspan><tspan x="696" dy="20.4">一条之一第二款的规定，以编造、</tspan><tspan x="696" dy="20.4">故意传播虚假信息罪定罪处罚。</tspan></text></g>
<g id="l7"><rect x="596" y="2634" width="417" height="177" rx="88.5" fill="#7d3ee6"/><text class="n" x="686" y="2656.9">3、利用新型冠状病毒感染肺炎疫<tspan x="686" dy="20.4">情，制造、传播谣言，煽动分裂国</tspan><tspan x="686" dy="20.4">家、破坏国家统一，或者煽动颠覆</tspan><tspan x="686" dy="20.4">国家政权、推翻社会主义制度的，</tspan><tspan x="686" dy="20.4">依照刑法第一百零三条第二款、第</tspan><tspan x="686" dy="20.4">一百零五条第二款的规定，以煽动</tspan><tspan x="686" dy="20.4">分裂国家罪或者煽动颠覆国家政权</tspan><tspan x="686" dy="20.4">罪定罪处罚。</tspan></text></g>
<g id="l8"><rect x="566" y="2839" width="447" height="218" rx="109" fill="#f8126f"/><text class="n" x="666" y="2862">1、非法猎捕、杀害国家重点保护<tspan x="666" dy="20.4">的珍贵、濒危野生动物的，或者非</tspan><tspan x="666" dy="20.4">法收购、运输、出售国家重点保护</tspan><tspan x="666" dy="20.4">的珍贵、濒危野生动物及其制品的</tspan><tspan x="666" dy="20.4">，依照刑法第三百四十一条第一款</tspan><tspan x="666" dy="20.4">的规定，以非法猎捕、杀害珍贵、</tspan><tspan x="666" dy="20.4">濒危野生动物罪或者非法收购、运</tspan><tspan x="666" dy="20.4">输、出售珍贵、濒危野生动物、珍</tspan><tspan x="666" dy="20.4">贵、濒危野生动物制品罪定罪处罚</tspan><tspan x="666" dy="20.4">。</tspan></text></g>
<g id="l9"><rect x="616" y="3082" width="397" height="157" rx="78.5" fill="#fb5a0b"/><text class="n" x="696" y="3105.1">3、违反国家规定，非法经营非国<tspan x="696" dy="20.4">家重点保护野生动物及其制品（包</tspan><tspan x="696" dy="20.4">括开办交易场所、进行网络销售、</tspan><tspan x="696" dy="20.4">加工食品出售等），扰乱市场秩序</tspan><tspan x="696" dy="20.4">，情节严重的，依照刑法第二百二</tspan><tspan x="696" dy="20.4">十五条第四项的规定，以非法经营</tspan><tspan x="696" dy="20.4">罪定罪处罚。</tspan></text></g>
<g id="l10"><rect x="678" y="3268" width="335" height="102" rx="51" fill="#f9bb16"/><text class="nd" x="727" y="3294.2">5、知道或者应当知道是非法狩猎<tspan x="727" dy="20.4">的野生动物而购买，符合刑法第三</tspan><tspan x="727" dy="20.4">百一十二条规定的，以掩饰、隐瞒</tspan><tspan x="727" dy="20.4">犯罪所得罪定罪处罚。</tspan></text></g>

<g id="n4"><rect x="1390" y="3953" width="95" height="42" rx="21" fill="#3cee7c"/><text class="nd" x="1437.5" y="3979.5" text-anchor="middle">引用法条</text></g>
<g id="refs">
<rect class="lg" x="1517" y="2987" width="156" height="25" rx="5"/><text class="ls" x="1523" y="3003.6">[1]《中华人民共和国刑法》</text>
<rect class="lg" x="1517" y="3040" width="205" height="25" rx="5"/><text class="ls" x="1523" y="3056.6">[2]《中华人民共和国传染病防治法》</text>
<rect class="lg" x="1517" y="3093" width="250" height="41" rx="5"/><text class="ls" x="1523" y="3110.25">[3]《中华人民共和国治安管理处罚法》 第五<tspan x="1523" dy="15.3">十条</tspan></text>
<rect class="lg" x="1517" y="3161" width="250" height="41" rx="5"/><text class="ls" x="1523" y="3178.25">[4]《中华人民共和国治安管理处罚法》 第二<tspan x="1523" dy="15.3">十五条</tspan></text>
<rect class="lg" x="1517" y="3229" width="250" height="41" rx="5"/><text class="ls" x="1523" y="3246.25">[5]《中华人民共和国治安管理处罚法》 第三<tspan x="1523" dy="15.3">百三十条</tspan></text>
<rect class="lg" x="1517" y="3297" width="250" height="41" rx="5"/><text class="ls" x="1523" y="3314.25">[6]《中华人民共和国治安管理处罚法》 第一<tspan x="1523" dy="15.3">百四十条</tspan></text>
<rect class="lg" x="1517" y="3365" width="250" height="41" rx="5"/><text class="ls" x="1523" y="3382.25">[7]《中华人民共和国治安管理处罚法》 第一<tspan x="1523" dy="15.3">百零三条</tspan></text>
<rect class="lg" x="1517" y="3433" width="250" height="41" rx="5"/><text class="ls" x="1523" y="3450.25">[8]《中华人民共和国治安管理处罚法》 第一<tspan x="1523" dy="15.3">百零五条</tspan></text>
<rect class="lg" x="1517" y="3501" width="250" height="41" rx="5"/><text class="ls" x="1523" y="3518.25">[9]《中华人民共和国治安管理处罚法》 第两<tspan x="1523" dy="15.3">百九十一条</tspan></text>
<rect class="lg" x="1517" y="3569" width="250" height="41" rx="5"/><text class="ls" x="1523" y="3586.25">[10]《中华人民共和国治安管理处罚法》 第<tspan x="1523" dy="15.3">一百一十四条</tspan></text>
<rect class="lg" x="1517" y="3637" width="250" height="41" rx="5"/><text class="ls" x="1523" y="3654.25">[11]《中华人民共和国治安管理处罚法》 第<tspan x="1523" dy="15.3">一百一十五条</tspan></text>
<rect class="lg" x="1517" y="3705" width="250" height="41" rx="5"/><text class="ls" x="1523" y="3722.25">[12]《中华人民共和国治安管理处罚法》 第<tspan x="1523" dy="15.3">两百七十七条</tspan></text>
<rect class="lg" x="1517" y="3773" width="250" height="41" rx="5"/><text class="ls" x="1523" y="3790.25">[13]《中华人民共和国治安管理处罚法》 第<tspan x="1523" dy="15.3">两百三十四条</tspan></text>
<rect class="lg" x="1517" y="3841" width="250" height="41" rx="5"/><text class="ls" x="1523" y="3858.25">[14]《中华人民共和国治安管理处罚法》 第<tspan x="1523" dy="15.3">两百九十三条</tspan></text>
<rect class="lg" x="1517" y="3909" width="250" height="41" rx="5"/><text class="ls" x="1523" y="3926.25">[15]《中华人民共和国治安管理处罚法》 第<tspan x="1523" dy="15.3">两百四十六条</tspan></text>
<rect class="lg" x="1517" y="3977" width="250" height="41" rx="5"/><text class="ls" x="1523" y="3994.25">[16]《中华人民共和国治安管理处罚法》 第<tspan x="1523" dy="15.3">两百三十八条</tspan></text>
<rect class="lg" x="1517" y="4045" width="250" height="41" rx="5"/><text class="ls" x="1523" y="4062.25">[17]《中华人民共和国治安管理处罚法》 第<tspan x="1523" dy="15.3">一百四十一条</tspan></text>
<rect class="lg" x="1517" y="4113" width="250" height="41" rx="5"/><text class="ls" x="1523" y="4130.25">[18]《中华人民共和国治安管理处罚法》 第<tspan x="1523" dy="15.3">一百四十二条</tspan></text>
<rect class="lg" x="1517" y="4181" width="250" height="41" rx="5"/><text class="ls" x="1523" y="4198.25">[19]《中华人民共和国治安管理处罚法》 第<tspan x="1523" dy="15.3">一百四十五条</tspan></text>
<rect class="lg" x="1517" y="4249" width="250" height="41" rx="5"/><text class="ls" x="1523" y="4266.25">[20]《中华人民共和国治安管理处罚法》 第<tspan x="1523" dy="15.3">两百二十二条</tspan></text>
<rect class="lg" x="1517" y="4317" width="250" height="41" rx="5"/><text class="ls" x="1523" y="4334.25">[21]《中华人民共和国治安管理处罚法》 第<tspan x="1523" dy="15.3">两百二十五条</tspan></text>
<rect class="lg" x="1517" y="4385" width="250" height="41" rx="5"/><text class="ls" x="1523" y="4402.25">[22]《中华人民共和国治安管理处罚法》 第<tspan x="1523" dy="15.3">两百六十六条</tspan></text>
<rect class="lg" x="1517" y="4453" width="250" height="41" rx="5"/><text class="ls" x="1523" y="4470.25">[23]《中华人民共和国治安管理处罚法》 第<tspan x="1523" dy="15.3">两百六十八条</tspan></text>
<rect class="lg" x="1517" y="4521" width="250" height="41" rx="5"/><text class="ls" x="1523" y="4538.25">[24]《中华人民共和国治安管理处罚法》 第<tspan x="1523" dy="15.3">两百八十六条</tspan></text>
<rect class="lg" x="1517" y="4589" width="250" height="41" rx="5"/><text class="ls" x="1523" y="4606.25">[25]《中华人民共和国治安管理处罚法》 第<tspan x="1523" dy="15.3">一百一十七条</tspan></text>
<rect class="lg" x="1517" y="4657" width="250" height="41" rx="5"/><text class="ls" x="1523" y="4674.25">[26]《中华人民共和国治安管理处罚法》 第<tspan x="1523" dy="15.3">一百一十九条</tspan></text>
<rect class="lg" x="1517" y="4725" width="250" height="41" rx="5"/><text class="ls" x="1523" y="4742.25">[27]《中华人民共和国治安管理处罚法》 第<tspan x="1523" dy="15.3">三百四十一条</tspan></text>
<rect class="lg" x="1517" y="4793" width="250" height="41" rx="5"/><text class="ls" x="1523" y="4810.25">[28]《中华人民共和国治安管理处罚法》 第<tspan x="1523" dy="15.3">三百一十二条</tspan></text>
<rect class="lg" x="1517" y="4861" width="250" height="41" rx="5"/><text class="ls" x="1523" y="4878.25">[29]《中华人民共和国治安管理处罚法》 第2<tspan x="1523" dy="15.3">91.1条</tspan></text>
<rect class="lg" x="1517" y="4929" width="250" height="41" rx="5"/><text class="ls" x="1523" y="4946.25">[30]《中华人民共和国治安管理处罚法》 第2<tspan x="1523" dy="15.3">86.1条</tspan></text>
</g>

<g id="watermarks">
<text class="wm" transform="translate(330,760) rotate(-30)">树图 shutu.cn</text>
<text class="wm" transform="translate(1760,640) rotate(-30)">树图 shutu.cn</text>
<text class="wm" transform="translate(330,1800) rotate(-30)">树图 shutu.cn</text>
<text class="wm" transform="translate(1760,1800) rotate(-30)">树图 shutu.cn</text>
<text class="wm" transform="translate(330,2820) rotate(-30)">树图 shutu.cn</text>
<text class="wm" transform="translate(1760,2760) rotate(-30)">树图 shutu.cn</text>
<text class="wm" transform="translate(330,3800) rotate(-30)">树图 shutu.cn</text>
<text class="wm" transform="translate(1760,3660) rotate(-30)">树图 shutu.cn</text>
<text class="wm" transform="translate(330,4800) rotate(-30)">树图 shutu.cn</text>
<text class="wm" transform="translate(1760,4620) rotate(-30)">树图 shutu.cn</text>
</g>
</g>
</svg>
